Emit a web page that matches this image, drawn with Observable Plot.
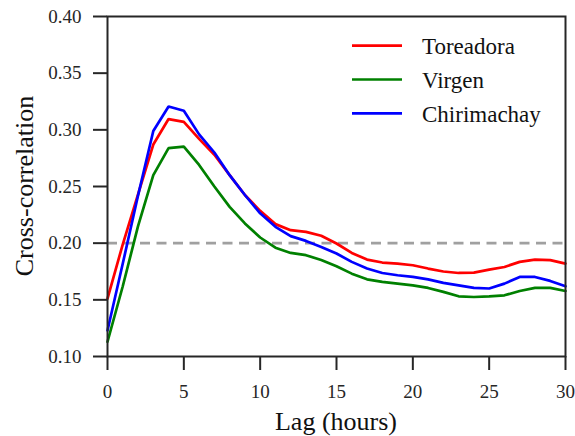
<!DOCTYPE html>
<html>
<head>
<meta charset="utf-8">
<script src="https://cdn.jsdelivr.net/npm/d3@7"></script>
<script src="https://cdn.jsdelivr.net/npm/@observablehq/plot@0.6"></script>
<style>
  html, body { margin: 0; padding: 0; background: #fff; }
  #chart svg { display: block; }
  #chart svg text { font-family: "Liberation Serif", "Times New Roman", Times, Tinos, "Nimbus Roman", "Nimbus Roman No9 L", FreeSerif, "DejaVu Serif", "Noto Serif", Georgia, serif; }
</style>
</head>
<body>
<div id="chart"></div>
<script>
// ---- data ----
const lags = d3.range(0, 31);
const seriesNames = ["Toreadora", "Virgen", "Chirimachay"];
const seriesColors = ["#ff0000", "#008000", "#0000ff"];
const toreadora = [0.151, 0.199, 0.243, 0.287, 0.3095, 0.307, 0.292, 0.278, 0.260, 0.2425, 0.2285, 0.2168, 0.2115, 0.210, 0.2065, 0.1997, 0.1914, 0.1855, 0.1829, 0.182, 0.1805, 0.1776, 0.175, 0.1737, 0.174, 0.1767, 0.179, 0.1835, 0.1855, 0.185, 0.182];
const virgen = [0.113, 0.162, 0.215, 0.260, 0.2838, 0.2852, 0.269, 0.250, 0.232, 0.2174, 0.205, 0.196, 0.1914, 0.1894, 0.1852, 0.1796, 0.1731, 0.1681, 0.1658, 0.1643, 0.1628, 0.1605, 0.157, 0.1531, 0.1525, 0.1531, 0.154, 0.1578, 0.1605, 0.1605, 0.1578];
const chirimachay = [0.123, 0.182, 0.242, 0.299, 0.3206, 0.3168, 0.296, 0.280, 0.260, 0.2425, 0.2263, 0.2144, 0.2062, 0.202, 0.1967, 0.1909, 0.1835, 0.1776, 0.1737, 0.1717, 0.1702, 0.1681, 0.165, 0.1628, 0.1605, 0.160, 0.1643, 0.1702, 0.1702, 0.1667, 0.162];
const threshold = 0.2;
const xTicks = [0, 5, 10, 15, 20, 25, 30];
const yTicks = [0.10, 0.15, 0.20, 0.25, 0.30, 0.35, 0.40];
const xLabel = "Lag (hours)";
const yLabel = "Cross-correlation";

const seriesValues = [toreadora, virgen, chirimachay];
const rows = [];
seriesNames.forEach((name, i) => {
  lags.forEach((lag, j) => rows.push({series: name, lag, value: seriesValues[i][j]}));
});

const W = 575, H = 436;
const M = {left: 107, right: 10, top: 16, bottom: 80};
const ink = "#262626";

const plot = Plot.plot({
  width: W,
  height: H,
  marginLeft: M.left,
  marginRight: M.right,
  marginTop: M.top,
  marginBottom: M.bottom,
  style: {background: "#fff", color: ink},
  x: {domain: [0, 30]},
  y: {domain: [0.1, 0.4]},
  color: {domain: seriesNames, range: seriesColors},
  marks: [
    Plot.ruleY([threshold], {stroke: "#a0a0a0", strokeWidth: 2.7, strokeDasharray: "10,6.5"}),
    Plot.line(rows, {x: "lag", y: "value", z: "series", stroke: "series", strokeWidth: 2.7, strokeLinejoin: "miter"}),
    Plot.frame({stroke: ink, strokeWidth: 2}),
    Plot.axisX({ticks: xTicks, tickSize: 14, tickPadding: 14, tickFormat: d => String(d), fontSize: 19, stroke: ink, strokeWidth: 2, label: null}),
    Plot.axisY({ticks: yTicks, tickSize: 14, tickPadding: 12, tickFormat: d3.format(".2f"), fontSize: 19, stroke: ink, strokeWidth: 2, label: null})
  ]
});

document.getElementById("chart").appendChild(plot);

const svg = d3.select(plot);
// axis labels
svg.append("text")
  .attr("x", (M.left + W - M.right) / 2)
  .attr("y", 430)
  .attr("text-anchor", "middle")
  .attr("font-size", 26)
  .attr("fill", "#111")
  .text(xLabel);
svg.append("text")
  .attr("transform", `translate(33, ${(M.top + H - M.bottom) / 2}) rotate(-90)`)
  .attr("text-anchor", "middle")
  .attr("font-size", 26)
  .attr("fill", "#111")
  .text(yLabel);

// legend
const leg = svg.append("g");
seriesNames.forEach((name, i) => {
  const y = 45.7 + i * 33.8;
  leg.append("line")
    .attr("x1", 352).attr("x2", 402)
    .attr("y1", y).attr("y2", y)
    .attr("stroke", seriesColors[i])
    .attr("stroke-width", 2.7);
  leg.append("text")
    .attr("x", 422)
    .attr("y", y + 8.5)
    .attr("text-anchor", "start")
    .attr("font-size", 23)
    .attr("fill", "#111")
    .text(name);
});
</script>
</body>
</html>
